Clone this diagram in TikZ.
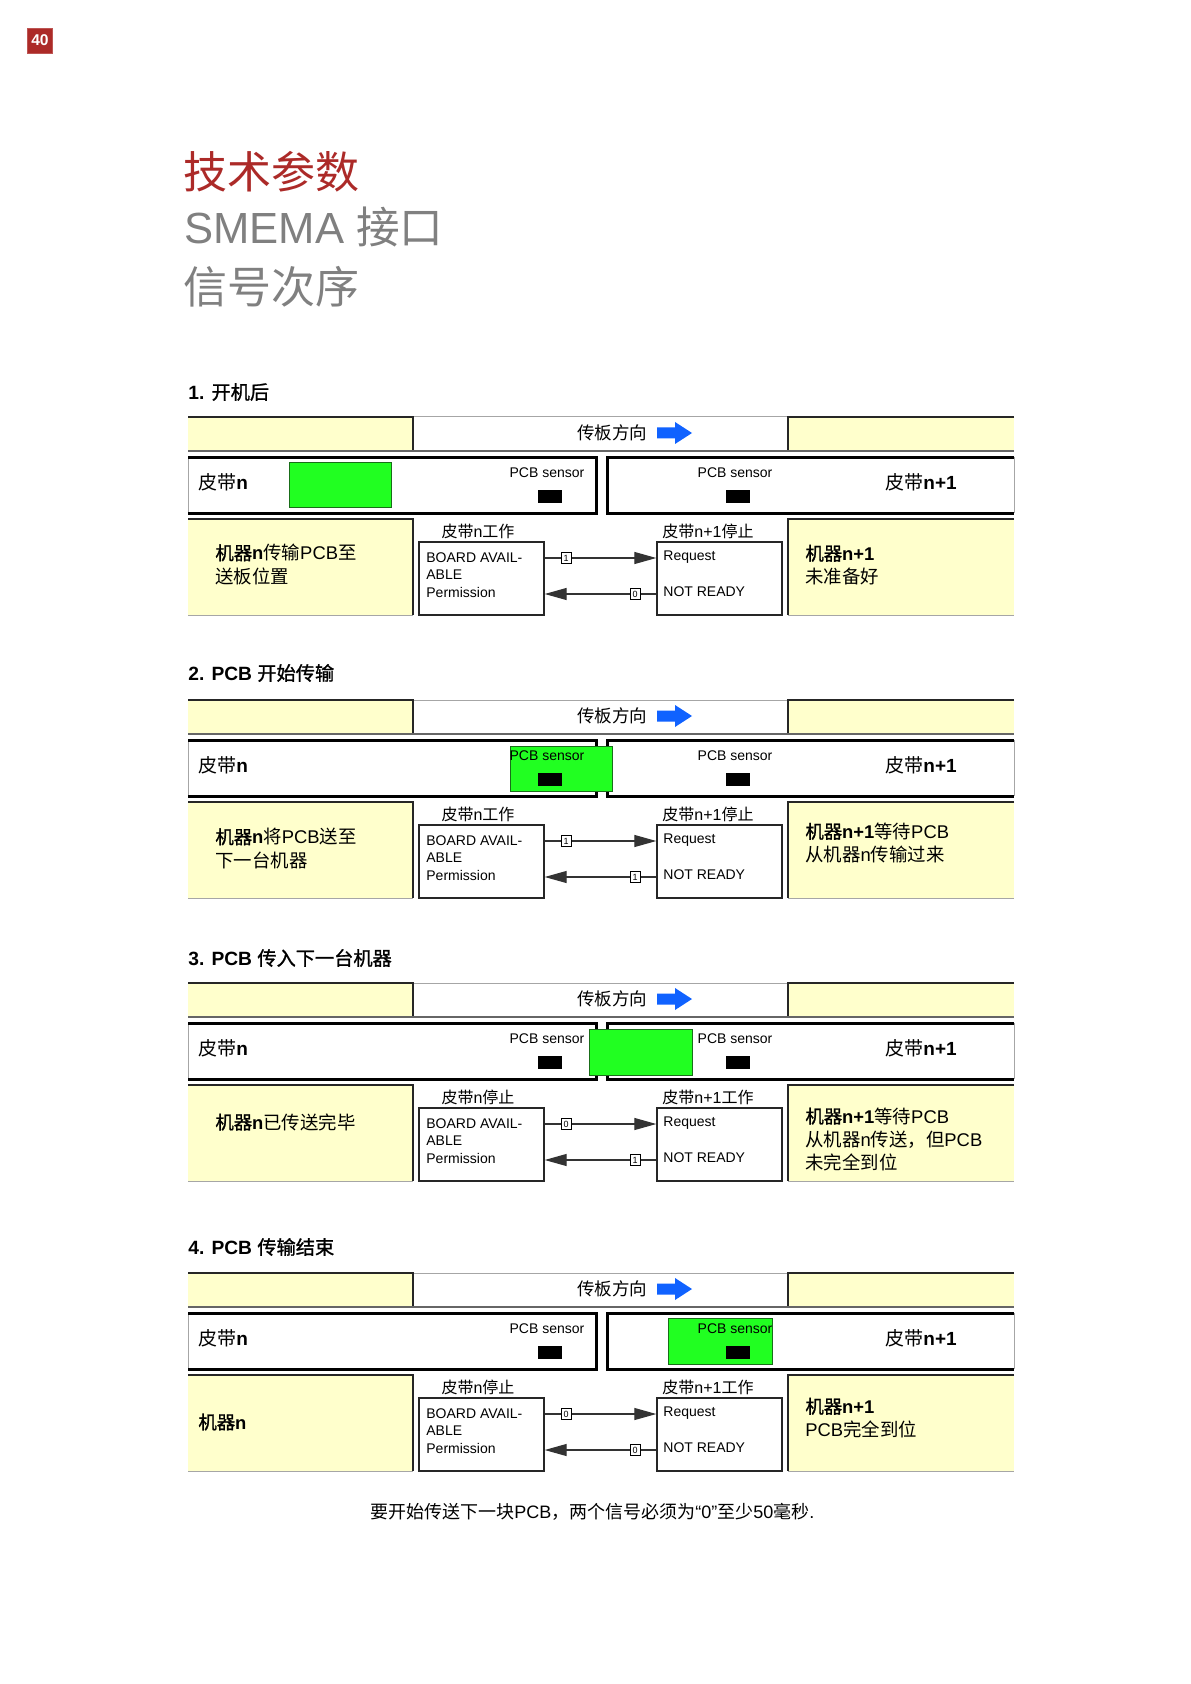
\documentclass[tikz,border=0pt]{standalone}
\usepackage{fontspec}
\setmainfont{Liberation Sans}
\newfontfamily\cjk{Noto Sans CJK SC}[BoldFont={Noto Sans CJK SC}, BoldFeatures={FakeBold=1.2}]
\usetikzlibrary{arrows.meta}
\definecolor{ylw}{RGB}{255,255,204}
\definecolor{grn}{RGB}{33,255,33}
\definecolor{grnd}{RGB}{25,110,25}
\definecolor{titred}{RGB}{172,42,40}
\definecolor{titgray}{RGB}{128,128,128}
\definecolor{arrblue}{RGB}{16,98,255}
\newcommand\zh[1]{{\cjk #1}}
\tikzset{
  thinln/.style={draw=black!85, line width=0.6pt},
  grayln/.style={draw=black!35, line width=0.5pt},
  botln/.style={draw=black!60, line width=0.6pt},
  beltln/.style={draw=black, line width=1.5pt},
  sensorbox/.style={fill=black, draw=none, minimum width=12pt, minimum height=6.5pt, inner sep=0pt},
  sensortxt/.style={font=\fontsize{7}{8}\selectfont, inner sep=0pt},
  sigbox/.style={draw=black!85, fill=white, line width=0.7pt, minimum width=62.5pt, minimum height=36.5pt, inner sep=0pt},
  sigtxt/.style={anchor=west, font=\fontsize{7}{8}\selectfont, inner sep=0pt},
  vallbl/.style={draw=black, fill=white, line width=0.5pt, minimum width=5pt, minimum height=5.5pt, inner sep=0pt, font=\fontsize{4.5}{5}\selectfont},
  sigln/.style={draw=black!80, line width=0.6pt},
  sigarr/.style={sigln, -{Triangle[length=11pt,width=6pt]}},
  headtxt/.style={anchor=west, font=\fontsize{9.6}{11}\selectfont\bfseries, inner sep=0pt},
  bodytxt/.style={anchor=west, align=left, font=\fontsize{9.2}{11.7}\selectfont, inner sep=0pt},
  belttxt/.style={anchor=west, font=\fontsize{9.5}{11}\selectfont, inner sep=0pt},
  stlbl/.style={font=\fontsize{8}{9}\selectfont, inner sep=0pt},
  dirtxt/.style={font=\fontsize{8.75}{10}\selectfont, inner sep=0pt},
  pcb/.style={fill=grn, draw=grnd, line width=0.5pt},
}
% static parts of one panel: #1 left state, #2 right state
\newcommand\panelbase[2]{%
  \fill[ylw] (188,0) rectangle (413,34);
  \fill[ylw] (788,0) rectangle (1014,34);
  \draw[grayln] (413,0) -- (788,0);
  \draw[thinln] (188,0) -- (413,0) -- (413,34);
  \draw[thinln] (1014,0) -- (788,0) -- (788,34);
  \draw[botln] (188,34) -- (1014,34);
  \node[dirtxt] (dir) at (612,16) {\zh{传板方向}};
  \fill[arrblue] (657,10.5) -- (675,10.5) -- (675,5) -- (692,16) -- (675,27) -- (675,21.5) -- (657,21.5) -- cycle;
  \draw[grayln] (188,40) -- (188,96);
  \draw[beltln] (188,40) -- (596,40) -- (596,96) -- (188,96);
  \draw[grayln] (1014,40) -- (1014,96);
  \draw[beltln] (1014,40) -- (607,40) -- (607,96) -- (1014,96);
  \node[belttxt] (bn) at (198,65) {\zh{皮带}\textbf{n}};
  \node[belttxt] (bn1) at (885,65) {\zh{皮带}\textbf{n+1}};
  \fill[ylw] (188,102) rectangle (413,198);
  \fill[ylw] (788,102) rectangle (1014,198);
  \draw[thinln] (188,102) -- (413,102) -- (413,198);
  \draw[grayln] (188,198) -- (413,198);
  \draw[thinln] (1014,102) -- (788,102) -- (788,198);
  \draw[grayln] (788,198) -- (1014,198);
  \node[stlbl] (sl) at (478,114) {#1};
  \node[stlbl] (sr) at (708,114) {#2};
}
% sensors and signals: #1 top value, #2 bottom value
\newcommand\panelsig[2]{%
  \node[sensortxt] (st) at (547,56) {PCB sensor};
  \node[sensorbox] (sb) at (550,79.5) {};
  \node[sensortxt] (st1) at (735,56) {PCB sensor};
  \node[sensorbox] (sb1) at (737.5,79.5) {};
  \node[sigbox] (bb) at (481.5,161.5) {};
  \node[sigbox] (rq) at (719.5,161.5) {};
  \node[sigtxt] (b1) at (426,141) {BOARD AVAIL-};
  \node[sigtxt] (b2) at (426,158) {ABLE};
  \node[sigtxt] (b3) at (426,175) {Permission};
  \node[sigtxt] (r1) at (663,140) {Request};
  \node[sigtxt] (r2) at (663,175) {NOT READY};
  \coordinate (ya) at (0,141);
  \coordinate (yb) at (0,177);
  \draw[sigarr] (bb.east |- ya) -- (rq.west |- ya);
  \draw[sigarr] (rq.west |- yb) -- (bb.east |- yb);
  \node[vallbl] (va) at (566,141) {#1};
  \node[vallbl] (vb) at (635,177) {#2};
}
\begin{document}
\begin{tikzpicture}[x=0.5pt,y=-0.5pt]
\useasboundingbox[fill=white] (0,0) rectangle (1190,1684);
\node[fill=titred, draw=titred!80, minimum size=12.5pt, inner sep=0pt, text=white, font=\fontsize{7.8}{8}\selectfont\bfseries] (pg) at (40,40.5) {40};
\node[anchor=west, inner sep=0pt, text=titred, font=\cjk\fontsize{22}{24}\selectfont] (t1) at (183,172) {技术参数};
\node[anchor=west, inner sep=0pt, text=titgray, font=\fontsize{21.8}{24}\selectfont] (t2) at (184,227) {SMEMA \zh{接口}};
\node[anchor=west, inner sep=0pt, text=titgray, font=\cjk\fontsize{22}{24}\selectfont] (t3) at (183,287) {信号次序};

\begin{scope}[shift={(0,417)}, name prefix=s1-]
  \node[headtxt] (h) at (188,-25) {1. \zh{开机后}};
  \panelbase{\zh{皮带}n\zh{工作}}{\zh{皮带}n+1\zh{停止}}
  \fill[pcb] (289,45) rectangle (391,90);
  \panelsig{1}{0}
  \node[bodytxt] (lt) at (215,147.5) {{\bfseries\zh{机器}n}\zh{传输}PCB\zh{至}\\\zh{送板位置}};
  \node[bodytxt] (rt) at (805,148) {{\bfseries\zh{机器}n+1}\\\zh{未准备好}};
\end{scope}

\begin{scope}[shift={(0,700)}, name prefix=s2-]
  \node[headtxt] (h) at (188,-27) {2. PCB \zh{开始传输}};
  \panelbase{\zh{皮带}n\zh{工作}}{\zh{皮带}n+1\zh{停止}}
  \fill[pcb] (510,46) rectangle (612,91);
  \panelsig{1}{1}
  \node[bodytxt] (lt) at (215,148.5) {{\bfseries\zh{机器}n}\zh{将}PCB\zh{送至}\\\zh{下一台机器}};
  \node[bodytxt] (rt) at (805,143) {{\bfseries\zh{机器}n+1}\zh{等待}PCB\\\zh{从机器}n\zh{传输过来}};
\end{scope}

\begin{scope}[shift={(0,983)}, name prefix=s3-]
  \node[headtxt] (h) at (188,-25) {3. PCB \zh{传入下一台机器}};
  \panelbase{\zh{皮带}n\zh{停止}}{\zh{皮带}n+1\zh{工作}}
  \fill[pcb] (589,46) rectangle (692,92);
  \panelsig{0}{1}
  \node[bodytxt] (lt) at (215,139) {{\bfseries\zh{机器}n}\zh{已传送完毕}};
  \node[bodytxt] (rt) at (805,156.5) {{\bfseries\zh{机器}n+1}\zh{等待}PCB\\\zh{从机器}n\zh{传送，但}PCB\\\zh{未完全到位}};
\end{scope}

\begin{scope}[shift={(0,1273)}, name prefix=s4-]
  \node[headtxt] (h) at (188,-26) {4. PCB \zh{传输结束}};
  \panelbase{\zh{皮带}n\zh{停止}}{\zh{皮带}n+1\zh{工作}}
  \fill[pcb] (668,45) rectangle (772,91);
  \panelsig{0}{0}
  \node[bodytxt] (lt) at (198,149) {{\bfseries\zh{机器}n}};
  \node[bodytxt] (rt) at (805,145) {{\bfseries\zh{机器}n+1}\\PCB\zh{完全到位}};
\end{scope}

\node[anchor=west, inner sep=0pt, font=\fontsize{9}{11}\selectfont] (note) at (370,1512) {\zh{要开始传送下一块}PCB\zh{，两个信号必须为}“0”\zh{至少}50\zh{毫秒}.};
\end{tikzpicture}
\end{document}
